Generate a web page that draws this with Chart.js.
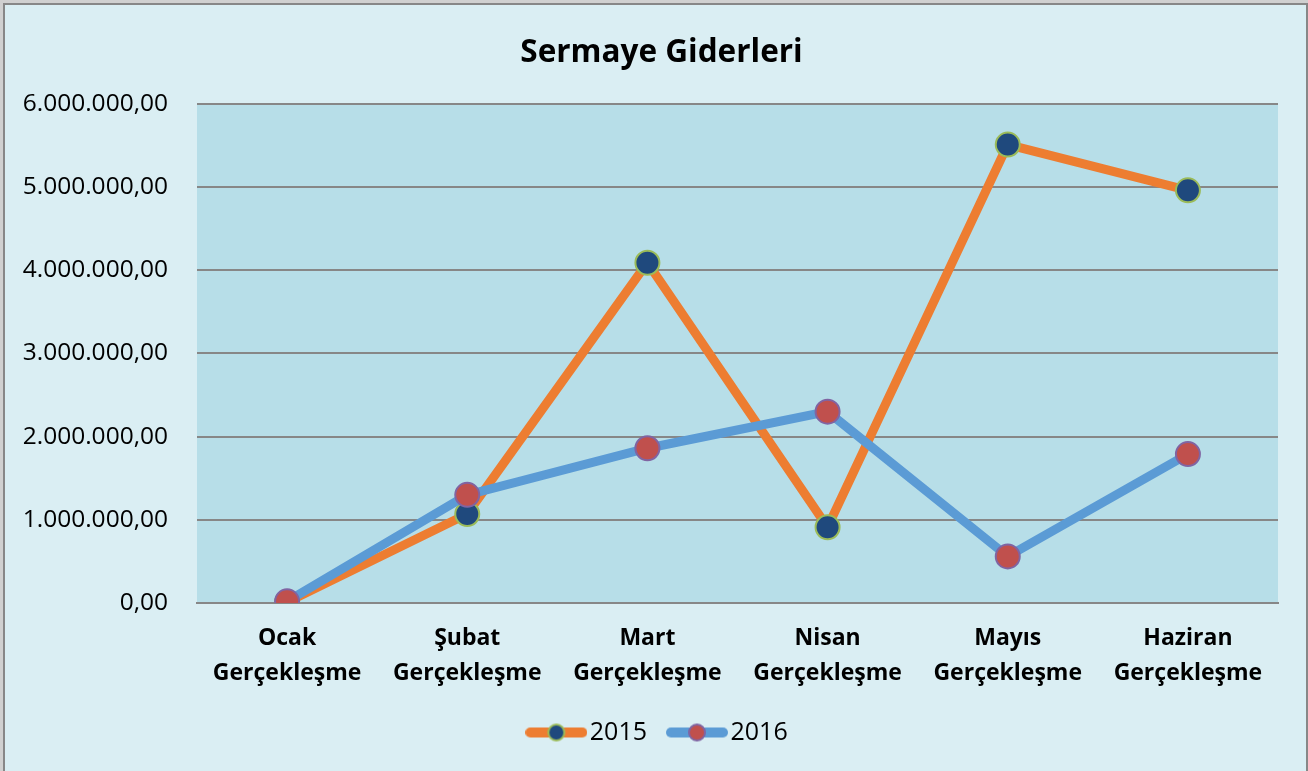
<!DOCTYPE html>
<html>
<head>
<meta charset="utf-8">
<script src="https://cdn.jsdelivr.net/npm/chart.js@4.4.1/dist/chart.umd.min.js"></script>
<style>
  body { margin: 0; background: #d0d0d0; overflow: hidden; }
  #frame {
    position: absolute; left: 3px; top: 3px;
    width: 1301px; height: 780px;
    border: 2px solid #878787; background: #daeef3;
  }
  #chart { display: block; }
</style>
</head>
<body>
<div id="frame"><canvas id="chart" width="1301" height="766"></canvas></div>
<script>
const categories = [
  ["Ocak", "Gerçekleşme"],
  ["Şubat", "Gerçekleşme"],
  ["Mart", "Gerçekleşme"],
  ["Nisan", "Gerçekleşme"],
  ["Mayıs", "Gerçekleşme"],
  ["Haziran", "Gerçekleşme"]
];
const values2015 = [10000, 1070000, 4090000, 910000, 5510000, 4960000];
const values2016 = [20000, 1300000, 1860000, 2300000, 560000, 1790000];
const seriesNames = ["2015", "2016"];

const FONT = "'Open Sans', 'Noto Sans', sans-serif";

// legend symbol: line with a dot in the middle
function legendSymbol(lineColor, fill, border) {
  const c = document.createElement("canvas");
  c.width = 62; c.height = 20;
  const g = c.getContext("2d");
  g.strokeStyle = lineColor;
  g.lineWidth = 10;
  g.lineCap = "round";
  g.beginPath(); g.moveTo(5, 10); g.lineTo(57, 10); g.stroke();
  g.beginPath(); g.arc(31, 10, 8, 0, Math.PI * 2);
  g.fillStyle = fill; g.fill();
  g.lineWidth = 2; g.strokeStyle = border; g.stroke();
  return c;
}
const legendSymbols = [
  legendSymbol("#ed7d31", "#1f497d", "#9bbb59"),
  legendSymbol("#5b9bd5", "#c0504d", "#8064a2")
];

const plotBg = {
  id: "plotBg",
  beforeDraw(chart) {
    const a = chart.chartArea, ctx = chart.ctx;
    ctx.save();
    ctx.fillStyle = "#b7dee8";
    ctx.fillRect(a.left, a.top, a.right - a.left, a.bottom - a.top);
    ctx.restore();
  }
};

function fmt(v) {
  const s = Math.round(v).toString().replace(/\B(?=(\d{3})+(?!\d))/g, ".");
  return s + ",00";
}

new Chart(document.getElementById("chart"), {
  type: "line",
  data: {
    labels: categories,
    datasets: [
      {
        label: seriesNames[0],
        data: values2015,
        order: 1,
        borderColor: "#ed7d31",
        borderWidth: 9,
        pointRadius: 12,
        pointBackgroundColor: "#1f497d",
        pointBorderColor: "#9bbb59",
        pointBorderWidth: 2,
        tension: 0
      },
      {
        label: seriesNames[1],
        data: values2016,
        order: 0, // 2016 is drawn on top
        borderColor: "#5b9bd5",
        borderWidth: 9,
        pointRadius: 12,
        pointBackgroundColor: "#c0504d",
        pointBorderColor: "#8064a2",
        pointBorderWidth: 2,
        tension: 0
      }
    ]
  },
  options: {
    responsive: false,
    animation: false,
    layout: { padding: { left: 12, right: 0, top: 0, bottom: 16 } },
    plugins: {
      title: {
        display: true,
        text: "Sermaye Giderleri",
        color: "#000",
        font: { family: FONT, size: 31.5, weight: "bold" },
        padding: { top: 29, bottom: 32 }
      },
      legend: {
        position: "bottom",
        labels: {
          usePointStyle: true,
          pointStyleWidth: 42,
          color: "#000",
          padding: 29,
          font: { family: FONT, size: 25 },
          generateLabels(chart) {
            return chart.data.datasets.map((ds, i) => ({
              text: ds.label,
              pointStyle: legendSymbols[i],
              fillStyle: ds.borderColor,
              strokeStyle: ds.borderColor,
              lineWidth: 0,
              fontColor: "#000",
              datasetIndex: i
            }));
          }
        }
      },
      tooltip: { enabled: false }
    },
    scales: {
      x: {
        offset: true,
        afterFit(scale) { scale.height = 88; },
        grid: { display: false, drawTicks: false },
        border: { color: "#878787", width: 2 },
        ticks: {
          color: "#000",
          padding: 18,
          maxRotation: 0,
          font: { family: FONT, size: 23, weight: "bold", lineHeight: 1.52 }
        }
      },
      y: {
        min: 0,
        max: 6000000,
        afterFit(scale) { scale.width = 180; },
        grid: { color: "#878787", lineWidth: 2, drawTicks: false },
        border: { display: false },
        ticks: {
          stepSize: 1000000,
          color: "#000",
          padding: 29,
          font: { family: FONT, size: 24.5 },
          callback: (v) => fmt(v)
        }
      },
      // empty space on the right of the plot
      yRight: {
        position: "right",
        min: 0,
        max: 1,
        afterFit(scale) { scale.width = 28; },
        grid: { display: false, drawTicks: false },
        border: { display: false },
        ticks: { display: false }
      }
    }
  },
  plugins: [plotBg]
});
</script>
</body>
</html>
